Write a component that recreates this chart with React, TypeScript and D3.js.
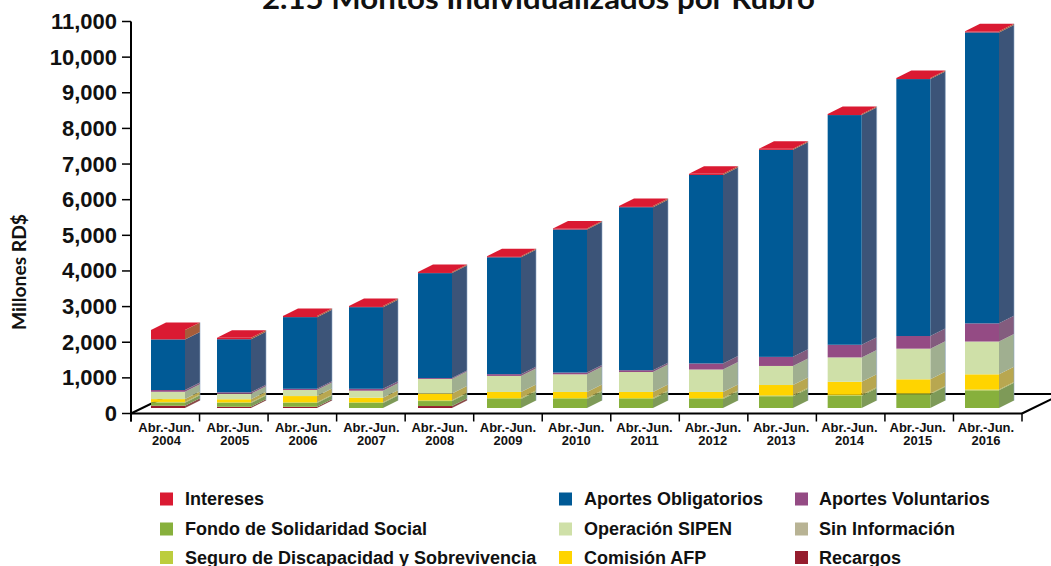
import React from "react";
import * as d3 from "d3";

const categories = ["2004","2005","2006","2007","2008","2009","2010","2011","2012","2013","2014","2015","2016"];
const recargos =     [65,35,35,0,55,0,0,0,0,0,0,0,0];
const fondo =        [85,105,105,140,140,255,255,255,255,330,345,385,495];
const seguro =       [20,20,20,20,20,25,25,25,25,25,25,25,25];
const comision =     [80,85,175,130,190,170,170,170,170,290,365,395,425];
const operacion =    [205,155,170,195,410,450,495,560,630,535,685,860,920];
const sinInformacion=[0,0,0,0,0,0,0,0,0,0,0,0,0];
const voluntarios =  [50,40,35,55,25,50,50,50,170,255,355,355,510];
const obligatorios = [1420,1490,2010,2290,2945,3280,4015,4575,5290,5810,6445,7210,8165];
const intereses =    [265,40,35,30,30,30,30,30,30,30,30,30,30];

const yTicks = [0,1000,2000,3000,4000,5000,6000,7000,8000,9000,10000,11000];

type Key = "recargos"|"fondo"|"seguro"|"comision"|"operacion"|"sinInformacion"|"voluntarios"|"obligatorios"|"intereses";
const seriesValues: Record<Key, number[]> = { recargos, fondo, seguro, comision, operacion, sinInformacion, voluntarios, obligatorios, intereses };
const keys: Key[] = ["recargos","fondo","seguro","comision","operacion","sinInformacion","voluntarios","obligatorios","intereses"];
const front: Record<Key,string> = { recargos:"#951d2e", fondo:"#87b03c", seguro:"#bccd3e", comision:"#ffd400", operacion:"#cfe0a8", sinInformacion:"#b8b394", voluntarios:"#944b84", obligatorios:"#005a96", intereses:"#da1a32" };
const side: Record<Key,string> = { recargos:"#8a4a48", fondo:"#7e9a58", seguro:"#a3ad58", comision:"#b8a750", operacion:"#a0af90", sinInformacion:"#a09a80", voluntarios:"#835c7e", obligatorios:"#3c5478", intereses:"#a65c3a" };

const legendCols: { label: string; key: Key }[][] = [
  [{label:"Intereses",key:"intereses"},{label:"Fondo de Solidaridad Social",key:"fondo"},{label:"Seguro de Discapacidad y Sobrevivencia",key:"seguro"}],
  [{label:"Aportes Obligatorios",key:"obligatorios"},{label:"Operación SIPEN",key:"operacion"},{label:"Comisión AFP",key:"comision"}],
  [{label:"Aportes Voluntarios",key:"voluntarios"},{label:"Sin Información",key:"sinInformacion"},{label:"Recargos",key:"recargos"}],
];

const sans = "'Liberation Sans', Arial, sans-serif";
const W = 1051, H = 566;
const y = d3.scaleLinear().domain([0, 11000]).range([413.5, 21.5]);
const BAR_LIFT = 5.5, DX = 15, DY = 7.5, BAR_W = 34;
// The source spaces its bars slightly unevenly: piecewise linear position by index.
const barX = d3.scaleLinear().domain([0,3,5,6,7,9,12]).range([151,349,487,553,619,759,965]);
const tickX = d3.scaleLinear().domain([0,13]).range([131,1022]);
const labelX = d3.scaleLinear().domain([0,12]).range([166.5,986]);

const rows = categories.map((_, i) => {
  const r: Record<string, number> = {};
  keys.forEach(k => { r[k] = seriesValues[k][i]; });
  return r;
});
const stacked = d3.stack<Record<string, number>>().keys(keys)(rows);
const line = d3.line();

export default function App() {
  const by = (v: number) => y(v) - BAR_LIFT;
  return (
    <svg width={W} height={H} style={{ position: "absolute", left: 0, top: 0 }}>
      <text x={538.5} y={9} textAnchor="middle" fontFamily="Lato, sans-serif" fontWeight={700} fontSize={29} textLength={553} lengthAdjust="spacingAndGlyphs" fill="#111">2.15 Montos Individualizados por Rubro</text>
      <path d={line([[131,413.5],[171,394],[1062,394],[1022,413.5]])!} fill="none" stroke="#000" strokeWidth={2} />
      {categories.map((c, i) => {
        const x0 = barX(i), x1 = x0 + BAR_W;
        const top = by(stacked[stacked.length-1][i][1]);
        return (
          <g key={c}>
            {stacked.map((s, si) => {
              const [a, b] = s[i];
              if (b - a <= 0) return null;
              const ya = by(a), yb = by(b);
              const k = s.key as Key;
              return (
                <g key={k}>
                  <path d={line([[x1,ya],[x1+DX,ya-DY],[x1+DX,yb-DY],[x1,yb]])+"Z"} fill={side[k]} />
                  <rect x={x0} y={yb} width={BAR_W} height={ya-yb} fill={front[k]} />
                </g>
              );
            })}
            <path d={line([[x0,top],[x0+DX,top-DY],[x1+DX,top-DY],[x1,top]])+"Z"} fill={front.intereses} />
            <line x1={x1+DX} x2={x1+DX} y1={top-DY} y2={by(0)-DY} stroke="#8fa6c4" strokeWidth={0.6} />
          </g>
        );
      })}
      <line x1={131} x2={131} y1={y(11000)} y2={y(0)+8} stroke="#000" strokeWidth={2} />
      <line x1={130} x2={1022} y1={y(0)} y2={y(0)} stroke="#000" strokeWidth={2} />
      {yTicks.map(t => (
        <g key={t}>
          <line x1={122} x2={131} y1={y(t)} y2={y(t)} stroke="#000" strokeWidth={1.5} />
          <text x={117} y={y(t)+7.5} textAnchor="end" fontFamily={sans} fontWeight={700} fontSize={22} fill="#111">{d3.format(",")(t)}</text>
        </g>
      ))}
      {d3.range(0, 14).map(i => (
        <line key={i} x1={tickX(i)} x2={tickX(i)} y1={y(0)} y2={y(0)+8} stroke="#000" strokeWidth={1.5} />
      ))}
      {categories.map((c, i) => (
        <text key={c} textAnchor="middle" fontFamily={sans} fontWeight={700} fontSize={13} fill="#111">
          <tspan x={labelX(i)} y={432}>Abr.-Jun.</tspan>
          <tspan x={labelX(i)} y={445}>{c}</tspan>
        </text>
      ))}
      <text transform="translate(26,272) rotate(-90)" textAnchor="middle" fontFamily="Lato, sans-serif" fontWeight={700} fontSize={18.5} textLength={116} lengthAdjust="spacingAndGlyphs" fill="#111">Millones RD$</text>
      {legendCols.map((col, ci) => col.map((item, ri) => {
        const sx = [160, 559, 795][ci], tx = [185, 584, 819][ci];
        const ly = [505, 535, 563.5][ri];
        return (
          <g key={item.label}>
            <rect x={sx} y={ly-12.5} width={13} height={13} fill={front[item.key]} />
            <text x={tx} y={ly} fontFamily={sans} fontWeight={700} fontSize={18} fill="#111">{item.label}</text>
          </g>
        );
      }))}
    </svg>
  );
}
